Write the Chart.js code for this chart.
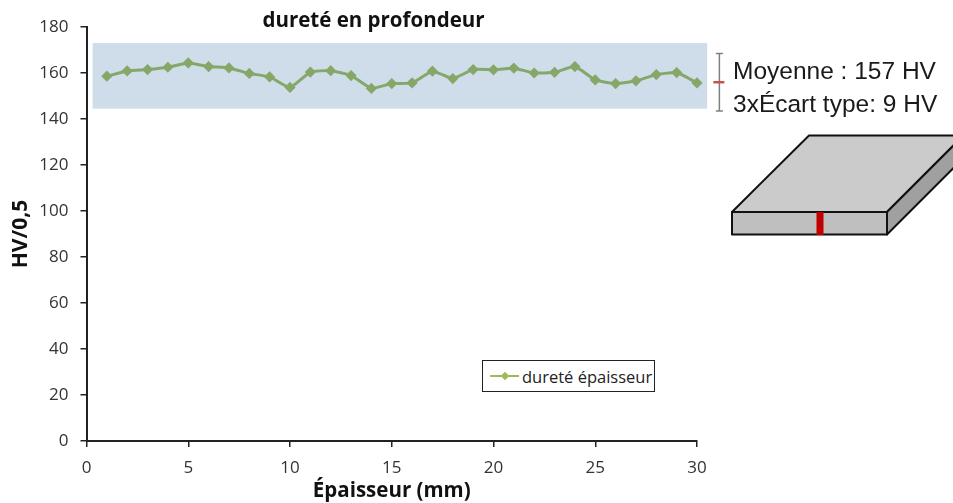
<!DOCTYPE html>
<html lang="fr">
<head>
<meta charset="utf-8">
<title>dureté en profondeur</title>
<script src="https://cdn.jsdelivr.net/npm/chart.js@4/dist/chart.umd.min.js"></script>
<style>
    html, body { margin: 0; padding: 0; background: #fff; }
    #wrap { position: relative; width: 953px; height: 503px; overflow: hidden; }
    #chartCanvas { position: absolute; left: 0; top: 0; }
    .note { position: absolute; left: 733px; font: 24.5px "Liberation Sans", sans-serif; color: #1a1a1a; white-space: nowrap; line-height: 32px; }
    #plate { position: absolute; left: 0; top: 0; }
    #legendBox {
        position: absolute; left: 482px; top: 360px; width: 171px; height: 30px;
        border: 1px solid #222; display: flex; align-items: center;
        font: 16.5px "Open Sans", sans-serif; color: #222; background: #fff;
    }
    #legendBox .key { position: relative; width: 29px; height: 2px; margin: 0 3px 0 7px; background: #9bbb59; }
    #legendBox .key i { position: absolute; left: 12px; top: -2px; width: 6px; height: 6px; background: #9bbb59; transform: rotate(45deg); }
</style>
</head>
<body>
<div id="wrap">
    <canvas id="chartCanvas" width="953" height="503"></canvas>
    <div class="note" style="top:55px">Moyenne : 157 HV</div>
    <div class="note" style="top:88px">3xÉcart type: 9 HV</div>
    <div id="legendBox"><span class="key"><i></i></span><span id="legendText"></span></div>
    <!-- schema de la plaque -->
    <svg id="plate" width="953" height="503">
        <g stroke="#111" stroke-width="2" stroke-linejoin="round">
            <polygon points="732,212 809,135.5 963.5,135.5 887,212" fill="#cbcbcb"/>
            <polygon points="887,212 963.5,135.5 963.5,158 887,234.5" fill="#a0a0a0"/>
            <rect x="732" y="212" width="155" height="22.5" fill="#bfbfbf"/>
        </g>
        <rect x="816.5" y="212" width="7" height="23" fill="#c00000"/>
    </svg>
</div>
<script>
// Donnees
const epaisseur = [1, 2, 3, 4, 5, 6, 7, 8, 9, 10, 11, 12, 13, 14, 15, 16, 17, 18, 19, 20, 21, 22, 23, 24, 25, 26, 27, 28, 29, 30];
const durete = [158.6, 160.9, 161.5, 162.5, 164.4, 162.8, 162.2, 159.8, 158.3, 153.7, 160.4, 161, 158.9, 153.3, 155.4, 155.7, 160.8, 157.6, 161.5, 161.4, 162.1, 160, 160.3, 162.8, 157, 155.4, 156.6, 159.3, 160.2, 155.7];
const bandeY = [144.5, 173];
const bandeX = [0.3, 30.5];
const moyenne = 156;
const barreY = [143.5, 168.5];
const barreX = 31.1;

const titre = 'dureté en profondeur';
const nomSerie = 'dureté épaisseur';

// Bande bleue et barre moyenne / ecart type, placees avec les echelles du graphique
const annotations = {
    id: 'annotations',
    beforeDatasetsDraw(chart) {
        const { ctx, scales: { x, y } } = chart;
        ctx.save();
        ctx.fillStyle = '#cfdcea';
        ctx.fillRect(x.getPixelForValue(bandeX[0]), y.getPixelForValue(bandeY[1]),
            x.getPixelForValue(bandeX[1]) - x.getPixelForValue(bandeX[0]),
            y.getPixelForValue(bandeY[0]) - y.getPixelForValue(bandeY[1]));

        const bx = x.getPixelForValue(barreX);
        const haut = y.getPixelForValue(barreY[1]);
        const bas = y.getPixelForValue(barreY[0]);
        ctx.strokeStyle = '#808080';
        ctx.lineWidth = 1.5;
        ctx.beginPath();
        ctx.moveTo(bx, haut); ctx.lineTo(bx, bas);
        ctx.moveTo(bx - 3.5, haut); ctx.lineTo(bx + 3.5, haut);
        ctx.moveTo(bx - 3.5, bas); ctx.lineTo(bx + 3.5, bas);
        ctx.stroke();
        ctx.strokeStyle = '#c9504f';
        ctx.lineWidth = 2.5;
        ctx.beginPath();
        ctx.moveTo(bx - 6, y.getPixelForValue(moyenne));
        ctx.lineTo(bx + 5, y.getPixelForValue(moyenne));
        ctx.stroke();

        // titre au dessus de l'axe, decale comme sur l'original
        ctx.fillStyle = '#111';
        ctx.font = 'bold 20.5px "Open Sans", sans-serif';
        ctx.textAlign = 'center';
        ctx.textBaseline = 'middle';
        ctx.fillText(titre, 373.5, 21);
        ctx.restore();
    }
};

const chart = new Chart(document.getElementById('chartCanvas'), {
    type: 'line',
    data: {
        datasets: [{
            label: nomSerie,
            data: epaisseur.map((e, i) => ({ x: e, y: durete[i] })),
            borderColor: '#85a869',
            backgroundColor: '#85a869',
            borderWidth: 3,
            pointStyle: 'rectRot',
            pointRadius: 3.5,
            tension: 0.15,
            clip: false
        }]
    },
    options: {
        responsive: false,
        animation: false,
        layout: { padding: { top: 27, right: 256, left: 0, bottom: 0 } },
        plugins: { legend: { display: false }, title: { display: false }, tooltip: { enabled: false } },
        scales: {
            x: {
                type: 'linear', min: 0, max: 30,
                afterFit: s => { s.height = 62; },
                border: { color: '#222', width: 2 },
                grid: { drawOnChartArea: false, color: '#222', lineWidth: 1.5, tickLength: 6 },
                ticks: { stepSize: 5, color: '#333', font: { family: 'Open Sans', size: 17 }, padding: 11, maxRotation: 0 },
                title: { display: true, text: 'Épaisseur (mm)', color: '#111', font: { family: 'Open Sans', size: 20.5, weight: 'bold' }, padding: { top: 0, bottom: 0 } }
            },
            y: {
                min: 0, max: 180,
                afterFit: s => { s.width = 86.5; },
                border: { color: '#222', width: 2 },
                grid: { drawOnChartArea: false, color: '#222', lineWidth: 1.5, tickLength: 6 },
                ticks: { stepSize: 20, color: '#333', font: { family: 'Open Sans', size: 17 }, padding: 12 },
                title: { display: true, text: 'HV/0,5', color: '#111', font: { family: 'Open Sans', size: 21, weight: 'bold' }, padding: { top: 8, bottom: 0 } }
            }
        }
    },
    plugins: [annotations]
});

document.getElementById('legendText').textContent = chart.data.datasets[0].label;
</script>
</body>
</html>
